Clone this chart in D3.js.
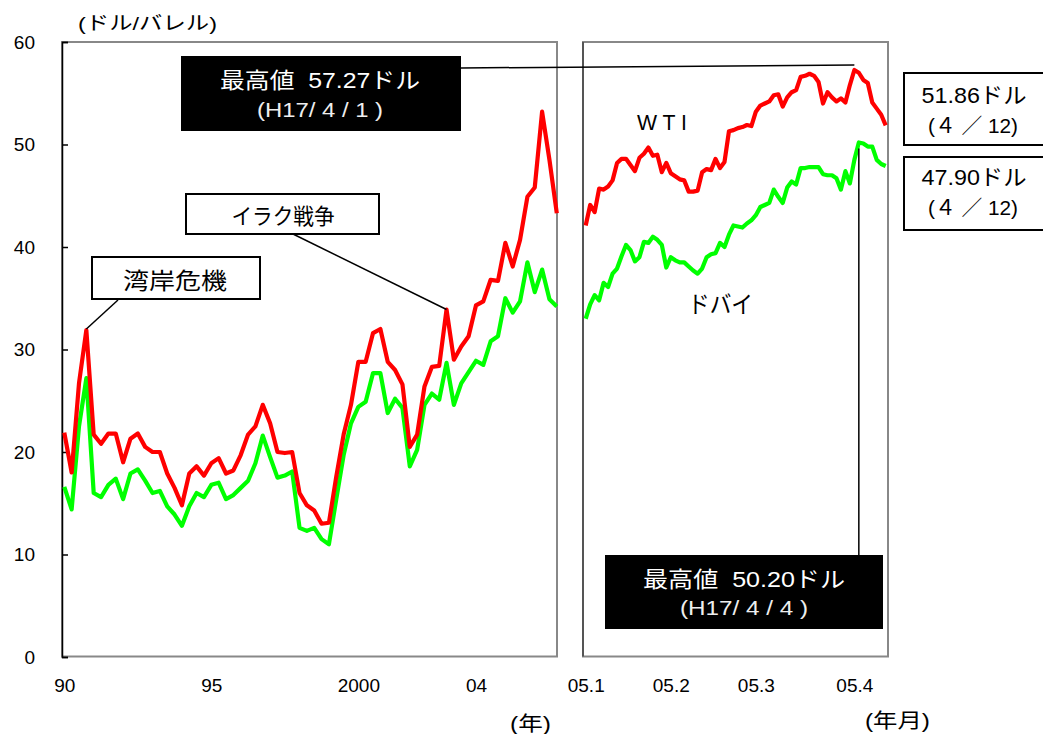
<!DOCTYPE html>
<html><head><meta charset="utf-8">
<script src="https://cdn.jsdelivr.net/npm/d3@7"></script>
<style>
html,body{margin:0;padding:0;background:#fff;}
svg{display:block;}
text{font-family:"Liberation Sans","Noto Sans CJK JP",sans-serif;white-space:pre;}
</style></head><body>
<svg id="c" width="1043" height="734"></svg>
<script>
// ---- data ----
const yTicks = [0, 10, 20, 30, 40, 50, 60];
const histLabels = ["90", "95", "2000", "04"];
const histLabelIdx = [0, 20, 40, 56];
const dailyLabels = ["05.1", "05.2", "05.3", "05.4"];
const dailyLabelIdx = [0, 19, 38, 60];

// 1990Q1-2003Q4 quarterly, 2004 monthly
const wtiHist = [21.9,18.0,26.7,31.9,21.7,20.8,21.8,21.8,19.0,21.3,
  21.8,20.5,20.0,20.0,17.9,16.5,14.8,17.9,18.6,17.7,
  18.9,19.4,17.9,18.2,19.7,21.7,22.5,24.6,22.8,20.0,
  19.9,20.0,16.0,14.8,14.3,13.0,13.1,17.6,21.7,24.6,
  28.8,28.8,31.6,32.0,28.8,28.0,26.6,20.5,21.7,26.4,
  28.3,28.4,33.9,29.0,30.3,31.3,34.3,34.7,36.8,36.7,
  40.4,38.1,40.7,44.9,45.8,53.2,48.5,43.3];
const dubaiHist = [16.6,14.4,22.5,27.2,16.0,15.6,16.8,17.4,15.4,17.9,
  18.3,17.2,16.0,16.2,14.7,13.9,12.8,14.7,16.0,15.6,
  16.8,17.0,15.4,15.8,16.5,17.2,18.9,21.6,19.5,17.5,
  17.7,18.1,12.6,12.3,12.6,11.5,11.0,15.4,19.7,22.8,
  24.4,24.9,27.7,27.7,23.8,25.2,24.3,18.6,20.2,24.6,
  25.7,25.1,28.7,24.6,26.7,27.8,28.9,28.5,30.8,31.3,
  35.0,33.6,34.7,38.5,35.6,37.8,34.9,34.2];
// 2005 daily, Jan 4 - Apr 12
const wtiDaily = [42.1,44.1,43.4,45.7,45.6,45.9,46.5,48.2,48.6,48.6,
  48.0,47.4,48.7,49.1,49.7,48.9,49.0,47.3,48.2,47.2,
  46.9,46.6,46.5,45.4,45.4,45.5,47.3,47.6,47.5,48.6,
  47.7,48.3,51.3,51.4,51.6,51.7,51.9,51.8,53.2,53.8,
  54.0,54.2,54.8,54.9,53.7,54.6,55.1,55.3,56.6,56.7,
  56.9,56.7,56.1,54.0,55.1,54.6,54.2,54.5,54.1,55.8,
  57.27,57.0,56.3,56.0,54.1,53.5,52.9,51.86];
const dubaiDaily = [33.0,34.4,35.3,34.8,36.5,36.1,37.4,37.9,39.1,40.2,
  39.7,38.6,39.0,40.5,40.4,41.0,40.7,40.2,38.0,39.0,
  38.7,38.5,38.5,38.1,37.7,37.4,37.9,39.0,39.3,39.4,
  40.4,40.0,41.2,42.1,42.0,41.9,42.3,42.6,43.1,43.9,
  44.1,44.3,45.6,44.9,44.3,45.8,46.4,46.1,47.7,47.7,
  47.8,47.8,47.8,47.1,47.0,47.0,46.7,45.6,47.4,46.2,
  48.5,50.2,50.1,49.8,49.8,48.5,48.1,47.9];

// ---- drawing ----
const svg = d3.select("#c");
const y = d3.scaleLinear().domain([0, 60]).range([657, 42]);
const xL = d3.scaleLinear().domain([0, wtiHist.length - 1]).range([64.3, 556.8]);
const xR = d3.scaleLinear().domain([0, wtiDaily.length - 1]).range([585.7, 885.7]);

// frames
svg.append("rect").attr("x", 62).attr("y", 42).attr("width", 495).attr("height", 614.5)
  .attr("fill", "none").attr("stroke", "#888").attr("stroke-width", 2);
svg.append("rect").attr("x", 583).attr("y", 42).attr("width", 305).attr("height", 614.5)
  .attr("fill", "none").attr("stroke", "#888").attr("stroke-width", 2);
svg.append("line").attr("x1", 583).attr("x2", 583).attr("y1", 42).attr("y2", 656.5)
  .attr("stroke", "#444").attr("stroke-width", 1.5);

// y axis
const yAxis = d3.axisLeft(y).tickValues(yTicks).tickSize(-6).tickPadding(27).tickFormat(d3.format("d"));
const ya = svg.append("g").attr("transform", "translate(62,0)").call(yAxis);
ya.select(".domain").attr("stroke", "#000").attr("stroke-width", 1.5);
ya.selectAll(".tick line").attr("stroke", "#000").attr("stroke-width", 1.5);
ya.selectAll("text").attr("font-size", 19).attr("fill", "#000")
  .style("font-family", '"Liberation Sans", sans-serif');

// x axes (labels only)
const xaL = svg.append("g").attr("transform", "translate(0,674)")
  .call(d3.axisBottom(xL).tickValues(histLabelIdx).tickSize(0).tickPadding(0)
    .tickFormat((d, i) => histLabels[i]));
const xaR = svg.append("g").attr("transform", "translate(0,674)")
  .call(d3.axisBottom(xR).tickValues(dailyLabelIdx).tickSize(0).tickPadding(0)
    .tickFormat((d, i) => dailyLabels[i]));
[xaL, xaR].forEach(g => {
  g.select(".domain").remove();
  g.selectAll("text").attr("font-size", 19).attr("fill", "#000").attr("dy", "0.95em")
    .style("font-family", '"Liberation Sans", sans-serif');
});

// lines
function drawLine(data, xs, color) {
  svg.append("path").datum(data)
    .attr("d", d3.line().x((d, i) => xs(i)).y(d => y(d)))
    .attr("fill", "none").attr("stroke", color).attr("stroke-width", 4.2)
    .attr("stroke-linejoin", "round").attr("stroke-linecap", "butt");
}
drawLine(dubaiHist, xL, "#00ff00");
drawLine(wtiHist, xL, "#ff0000");
drawLine(dubaiDaily, xR, "#00ff00");
drawLine(wtiDaily, xR, "#ff0000");

// helpers
function txt(x, yy, s, size, opts = {}) {
  const t = svg.append("text").attr("x", x).attr("y", yy).text(s)
    .attr("font-size", size).attr("fill", opts.fill || "#000")
    .attr("text-anchor", opts.anchor || "start");
  if (opts.len) t.attr("textLength", opts.len).attr("lengthAdjust", "spacingAndGlyphs");
  return t;
}
function box(x, yy, w, h, fill, stroke) {
  svg.append("rect").attr("x", x).attr("y", yy).attr("width", w).attr("height", h)
    .attr("fill", fill).attr("stroke", stroke || "none").attr("stroke-width", 2);
}
function leader(x1, y1, x2, y2) {
  svg.append("line").attr("x1", x1).attr("y1", y1).attr("x2", x2).attr("y2", y2)
    .attr("stroke", "#000").attr("stroke-width", 1.5);
}

// leader lines
leader(118, 300, xL(3), y(wtiHist[3]) - 1);
leader(293, 234, xL(52), y(wtiHist[52]));
leader(461, 68, xR(60), y(wtiDaily[60]) - 5);
leader(xR(61), y(dubaiDaily[61]) + 6, xR(61), 555);

// annotation boxes
box(181, 56, 280, 75, "#000");
txt(320, 88, "最高値\u00a0\u00a057.27ドル", 22, {fill: "#fff", anchor: "middle", len: 200});
txt(320, 117, "(H17/ 4 / 1 )", 20, {fill: "#eee", anchor: "middle", len: 126});

box(605, 555, 278, 74, "#000");
txt(744, 587, "最高値\u00a0\u00a050.20ドル", 22, {fill: "#fff", anchor: "middle", len: 202});
txt(744, 615, "(H17/ 4 / 4 )", 20, {fill: "#eee", anchor: "middle", len: 128});

box(904, 73, 150, 72, "#fff", "#000");
txt(974, 103, "51.86ドル", 22, {anchor: "middle", len: 105});
txt(973, 133, "(４ ／ 12)", 21, {anchor: "middle", len: 90});

box(904, 157, 150, 73, "#fff", "#000");
txt(974, 185, "47.90ドル", 22, {anchor: "middle", len: 105});
txt(973, 215, "(４ ／ 12)", 21, {anchor: "middle", len: 90});

box(92, 257, 168, 42, "#fff", "#000");
txt(175, 289, "湾岸危機", 23, {anchor: "middle", len: 104});

box(186, 194, 193, 40, "#fff", "#000");
txt(283, 224, "イラク戦争", 22, {anchor: "middle", len: 103});

// series labels
txt(637, 130, "W T I", 22, {len: 50});
txt(688, 313, "ドバイ", 24, {len: 65});

// axis titles
txt(78, 30, "(ドル/バレル)", 19, {len: 139});
txt(510, 731, "(年)", 20, {len: 41});
txt(865, 728, "(年月)", 20, {len: 65});
</script>
</body></html>
